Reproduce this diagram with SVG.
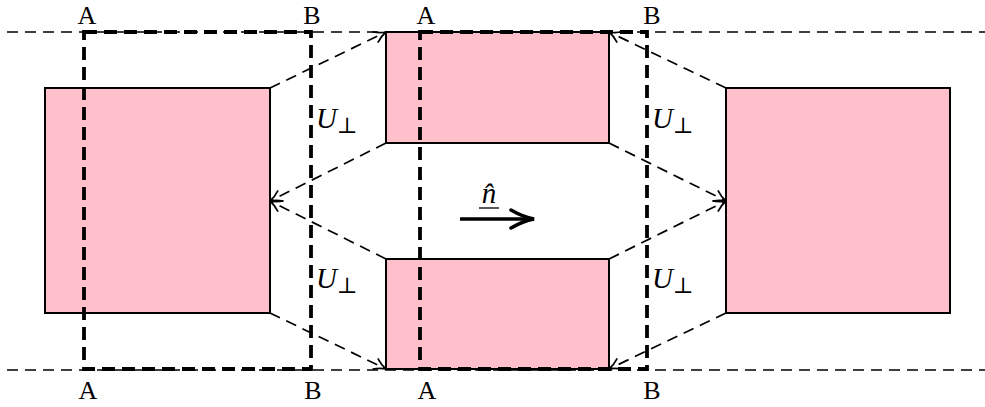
<svg xmlns="http://www.w3.org/2000/svg" width="985" height="407" viewBox="0 0 985 407">
<style>
.box{fill:#FFC0CB;stroke:#000;stroke-width:2}
.thin{fill:none;stroke:#000;stroke-width:1.7;stroke-dasharray:11 7}
.thick{fill:none;stroke:#000;stroke-width:3.8;stroke-dasharray:13 7}
.lbl{font-family:"Liberation Serif","DejaVu Serif",serif;font-size:26px;fill:#000}
.u{font-family:"Liberation Serif","DejaVu Serif",serif;font-size:29px;font-style:italic;fill:#000}
</style>
<defs>
<marker id="to" markerWidth="16" markerHeight="16" refX="13" refY="8" orient="auto" markerUnits="userSpaceOnUse">
<path d="M1,2 Q7,6.5 13,8 Q7,9.5 1,14" fill="none" stroke="#000" stroke-width="1.7"/>
</marker>
<marker id="big" markerWidth="30" markerHeight="24" refX="25" refY="12" orient="auto" markerUnits="userSpaceOnUse">
<path d="M2,3 Q14,10 25,12 Q14,14 2,21" fill="none" stroke="#000" stroke-width="3.5" stroke-linecap="round"/>
</marker>
</defs>
<g id="guides">
<line class="thin" x1="7" y1="32" x2="985" y2="32"/>
<line class="thin" x1="7" y1="370" x2="985" y2="370"/>
</g>
<g id="box-left"><rect class="box" x="45" y="88" width="225" height="225"/></g>
<g id="box-mid-top"><rect class="box" x="386" y="32" width="223" height="111"/></g>
<g id="box-mid-bottom"><rect class="box" x="386" y="259" width="223" height="110"/></g>
<g id="box-right"><rect class="box" x="726" y="88" width="224" height="225"/></g>
<g id="connectors">
<line class="thin" x1="270" y1="88" x2="386" y2="32" marker-end="url(#to)"/>
<line class="thin" x1="270" y1="313" x2="386" y2="369" marker-end="url(#to)"/>
<line class="thin" x1="386" y1="143" x2="270" y2="201" marker-end="url(#to)"/>
<line class="thin" x1="386" y1="259" x2="270" y2="201" marker-end="url(#to)"/>
<line class="thin" x1="609" y1="143" x2="726" y2="201" marker-end="url(#to)"/>
<line class="thin" x1="609" y1="259" x2="726" y2="201" marker-end="url(#to)"/>
<line class="thin" x1="726" y1="88" x2="609" y2="32" marker-end="url(#to)"/>
<line class="thin" x1="726" y1="313" x2="609" y2="369" marker-end="url(#to)"/>
<line x1="460" y1="219" x2="534" y2="219" stroke="#000" stroke-width="3.5" marker-end="url(#big)"/>
</g>
<g id="cells">
<rect class="thick" x="84" y="32" width="227" height="337"/>
<rect class="thick" x="420" y="32" width="227" height="337"/>
</g>
<g id="labels">
<text class="lbl" x="87" y="24" text-anchor="middle">A</text>
<text class="lbl" x="312" y="24" text-anchor="middle">B</text>
<text class="lbl" x="426" y="24" text-anchor="middle">A</text>
<text class="lbl" x="652" y="24" text-anchor="middle">B</text>
<text class="lbl" x="88" y="399" text-anchor="middle">A</text>
<text class="lbl" x="313" y="399" text-anchor="middle">B</text>
<text class="lbl" x="427" y="399" text-anchor="middle">A</text>
<text class="lbl" x="652" y="399" text-anchor="middle">B</text>
<text class="u" x="316" y="128">U<tspan font-style="normal" font-size="22" dy="5">⊥</tspan></text>
<text class="u" x="652" y="128">U<tspan font-style="normal" font-size="22" dy="5">⊥</tspan></text>
<text class="u" x="316" y="288">U<tspan font-style="normal" font-size="22" dy="5">⊥</tspan></text>
<text class="u" x="652" y="288">U<tspan font-style="normal" font-size="22" dy="5">⊥</tspan></text>
<text class="u" x="489" y="203" text-anchor="middle">n̂</text>
<line x1="479" y1="208" x2="499" y2="208" stroke="#000" stroke-width="1.3"/>
</g>
</svg>
